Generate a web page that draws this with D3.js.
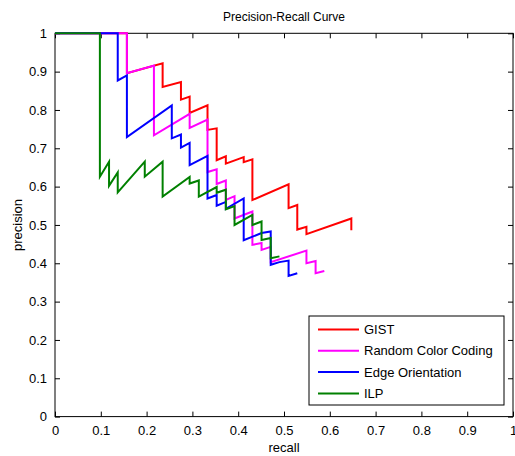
<!DOCTYPE html>
<html>
<head>
<meta charset="utf-8">
<script src="https://cdn.jsdelivr.net/npm/d3@7"></script>
<style>
  body { margin: 0; background: #fff; }
  text { font-family: "Liberation Sans", Arial, sans-serif; fill: #000; }
</style>
</head>
<body>
<script>
// recall / precision pairs
var gistRecall = [0, 0.157, 0.157, 0.235, 0.235, 0.275, 0.275, 0.294, 0.294, 0.333, 0.333, 0.353, 0.353, 0.373, 0.373, 0.412, 0.412, 0.431, 0.431, 0.510, 0.510, 0.529, 0.529, 0.549, 0.549, 0.647, 0.647];
var gistPrecision = [1, 1, 0.896, 0.922, 0.860, 0.873, 0.827, 0.835, 0.792, 0.812, 0.748, 0.752, 0.669, 0.679, 0.660, 0.677, 0.664, 0.671, 0.565, 0.606, 0.544, 0.552, 0.488, 0.495, 0.476, 0.517, 0.486];

var rccRecall = [0, 0.157, 0.157, 0.216, 0.216, 0.294, 0.294, 0.333, 0.333, 0.353, 0.353, 0.373, 0.373, 0.392, 0.392, 0.431, 0.431, 0.451, 0.451, 0.471, 0.471, 0.549, 0.549, 0.569, 0.569, 0.588];
var rccPrecision = [1, 1, 0.896, 0.916, 0.734, 0.790, 0.753, 0.775, 0.638, 0.645, 0.607, 0.616, 0.565, 0.575, 0.517, 0.535, 0.448, 0.453, 0.435, 0.443, 0.403, 0.433, 0.400, 0.406, 0.374, 0.380];

var edgeRecall = [0, 0.137, 0.137, 0.157, 0.157, 0.255, 0.255, 0.275, 0.275, 0.294, 0.294, 0.333, 0.333, 0.353, 0.353, 0.373, 0.373, 0.412, 0.412, 0.451, 0.471, 0.471, 0.490, 0.510, 0.510, 0.529];
var edgePrecision = [1, 1, 0.877, 0.890, 0.729, 0.812, 0.726, 0.736, 0.702, 0.714, 0.656, 0.680, 0.569, 0.578, 0.550, 0.560, 0.542, 0.569, 0.460, 0.479, 0.483, 0.396, 0.403, 0.407, 0.367, 0.374];

var ilpRecall = [0, 0.098, 0.098, 0.118, 0.118, 0.137, 0.137, 0.196, 0.196, 0.235, 0.235, 0.294, 0.294, 0.314, 0.314, 0.353, 0.353, 0.373, 0.373, 0.392, 0.392, 0.431, 0.431, 0.451, 0.451, 0.471, 0.471, 0.490];
var ilpPrecision = [1, 1, 0.626, 0.665, 0.602, 0.637, 0.585, 0.665, 0.626, 0.665, 0.574, 0.625, 0.608, 0.616, 0.574, 0.599, 0.584, 0.592, 0.541, 0.549, 0.500, 0.526, 0.500, 0.509, 0.461, 0.466, 0.413, 0.418];

var seriesNames = ["GIST", "Random Color Coding", "Edge Orientation", "ILP"];
var seriesColors = ["#ff0000", "#ff00ff", "#0000ff", "#008000"];
var tickValues = [0, 0.1, 0.2, 0.3, 0.4, 0.5, 0.6, 0.7, 0.8, 0.9, 1];

var W = 515, H = 456;
var plotL = 55, plotT = 33.3, plotR = 513, plotB = 416.6;

var svg = d3.select("body").append("svg")
  .attr("width", W)
  .attr("height", H);

var x = d3.scaleLinear().domain([0, 1]).range([plotL, plotR]);
var y = d3.scaleLinear().domain([0, 1]).range([plotB, plotT]);

function zipPts(r, p) {
  return r.map(function(d, i) { return [d, p[i]]; });
}
var series = [
  zipPts(gistRecall, gistPrecision),
  zipPts(rccRecall, rccPrecision),
  zipPts(edgeRecall, edgePrecision),
  zipPts(ilpRecall, ilpPrecision)
];

var fmt = function(d) { return d === 0 || d === 1 ? String(d) : d3.format(".1f")(d); };

// axes, MATLAB style: ticks pointing in, on all four sides
var xAxis = d3.axisBottom(x).tickValues(tickValues).tickSize(-5).tickPadding(9).tickFormat(fmt);
var yAxis = d3.axisLeft(y).tickValues(tickValues).tickSize(-5).tickPadding(8).tickFormat(fmt);
var xTop = d3.axisTop(x).tickValues(tickValues).tickSize(-5).tickFormat("");
var yRight = d3.axisRight(y).tickValues(tickValues).tickSize(-5).tickFormat("");

function styleAxis(g) {
  g.select(".domain").remove();
  g.selectAll(".tick line").attr("stroke", "#000");
  g.selectAll(".tick text").style("font-size", "13px").attr("font-family", null);
}

svg.append("g").attr("transform", "translate(0," + plotB + ")").call(xAxis).call(styleAxis);
svg.append("g").attr("transform", "translate(" + plotL + ",0)").call(yAxis).call(styleAxis);
svg.append("g").attr("transform", "translate(0," + plotT + ")").call(xTop).call(styleAxis);
svg.append("g").attr("transform", "translate(" + plotR + ",0)").call(yRight).call(styleAxis);

svg.append("rect")
  .attr("x", plotL).attr("y", plotT)
  .attr("width", plotR - plotL).attr("height", plotB - plotT)
  .attr("fill", "none").attr("stroke", "#000").attr("stroke-width", 1);

var line = d3.line()
  .x(function(d) { return x(d[0]); })
  .y(function(d) { return y(d[1]); });

svg.selectAll(".curve")
  .data(series)
  .enter()
  .append("path")
  .attr("class", "curve")
  .attr("d", line)
  .attr("fill", "none")
  .attr("stroke", function(d, i) { return seriesColors[i]; })
  .attr("stroke-width", 2);

// titles
svg.append("text")
  .attr("x", (plotL + plotR) / 2).attr("y", 21)
  .attr("text-anchor", "middle")
  .style("font-size", "12px")
  .text("Precision-Recall Curve");

svg.append("text")
  .attr("x", (plotL + plotR) / 2).attr("y", 452)
  .attr("text-anchor", "middle")
  .style("font-size", "13px")
  .text("recall");

svg.append("text")
  .attr("transform", "translate(22," + ((plotT + plotB) / 2) + ") rotate(-90)")
  .attr("text-anchor", "middle")
  .style("font-size", "13px")
  .text("precision");

// legend
var lg = svg.append("g").attr("transform", "translate(309,316)");
lg.append("rect")
  .attr("width", 195).attr("height", 89)
  .attr("fill", "#fff").attr("stroke", "#000");

var items = lg.selectAll(".item")
  .data(seriesNames)
  .enter()
  .append("g")
  .attr("class", "item")
  .attr("transform", function(d, i) { return "translate(0," + (13.5 + i * 21.3) + ")"; });

items.append("line")
  .attr("x1", 9).attr("x2", 50)
  .attr("stroke", function(d, i) { return seriesColors[i]; })
  .attr("stroke-width", 2);

items.append("text")
  .attr("x", 55).attr("dy", "0.35em")
  .style("font-size", "13px")
  .text(function(d) { return d; });
</script>
</body>
</html>
